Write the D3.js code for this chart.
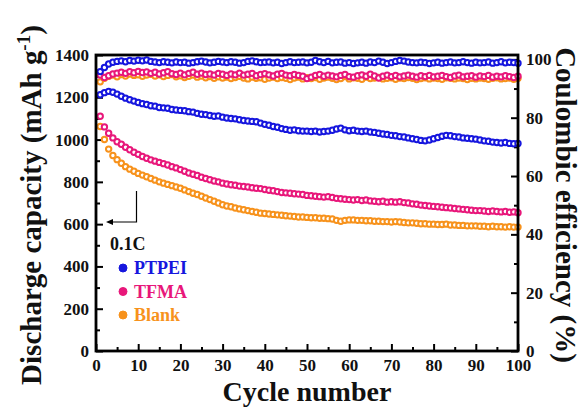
<!DOCTYPE html>
<html lang="en">
<head>
<meta charset="UTF-8">
<title>Cycling</title>
<script src="https://cdn.jsdelivr.net/npm/d3@7"></script>
<style>
  body { margin: 0; background: #fff; }
  svg text { font-family: "Liberation Serif", "Times New Roman", serif; font-weight: bold; }
  .axis path { display: none; }
  .axis line { stroke: #000; stroke-width: 2; }
  .axis text { font-size: 17px; fill: #111; font-family: "Liberation Serif", serif; }
</style>
</head>
<body>
<div id="container"></div>
<script>
// cycle numbers 1..100
var cycles = d3.range(1, 101);

// discharge capacity (mAh g-1)
var capPTPEI = [
  1212,1222,1228,1224,1215,1205,1196,1188,1182,1175,
  1170,1166,1160,1158,1152,1150,1148,1142,1140,1138,
  1136,1132,1130,1124,1120,1118,1114,1110,1112,1106,
  1102,1100,1098,1094,1090,1088,1086,1084,1078,1072,
  1068,1062,1058,1052,1048,1044,1046,1042,1040,1040,
  1038,1040,1036,1038,1040,1044,1050,1054,1046,1042,
  1044,1040,1038,1040,1036,1034,1030,1026,1024,1020,
  1018,1014,1012,1008,1004,1000,996,994,998,1004,
  1010,1016,1020,1018,1014,1012,1008,1006,1004,1002,
  998,994,992,988,986,984,986,982,980,982
];
var capTFMA = [
  1110,1060,1030,1008,990,978,964,952,940,930,
  920,912,904,898,892,886,880,872,866,858,
  850,842,836,830,822,816,810,804,800,794,
  790,786,784,780,778,776,772,770,768,764,
  760,758,754,750,748,746,744,742,740,736,
  734,732,730,728,730,726,722,720,718,716,
  714,716,712,714,710,708,706,708,704,706,
  704,706,702,700,696,694,690,688,686,684,
  682,680,678,676,674,672,670,668,666,664,
  664,662,660,662,660,658,660,656,658,654
];
var capBlank = [
  1062,1000,955,925,905,888,872,860,850,840,
  832,824,816,808,800,794,788,782,776,770,
  762,754,746,740,732,724,716,708,700,692,
  686,682,676,672,668,664,660,656,652,650,
  648,646,644,642,640,638,636,634,634,632,
  630,630,628,628,626,624,618,614,618,620,
  620,618,618,616,616,614,614,612,612,610,
  612,610,608,606,606,604,602,602,600,600,
  598,598,600,596,596,594,594,592,592,592,
  590,590,588,590,588,588,586,588,586,586
];

// coulombic efficiency (%)
var cePTPEI = [
  95.8,97.2,98.4,99.0,99.3,99.5,99.2,99.6,99.4,99.7,
  99.5,99.8,99.3,99.1,98.9,99.2,99.0,98.8,99.1,98.9,
  99.0,98.7,98.9,99.2,99.4,99.1,98.8,99.0,99.3,99.1,
  98.9,99.2,99.0,98.7,98.9,99.3,99.5,99.2,98.9,99.0,
  99.1,98.8,99.0,98.6,98.9,99.2,98.9,99.0,99.1,98.8,
  99.0,99.6,99.2,98.9,99.3,98.8,99.0,99.1,98.7,98.9,
  98.6,98.8,99.0,98.7,99.1,98.9,99.4,99.0,98.6,98.9,
  99.3,99.6,99.4,99.1,98.9,98.8,99.0,98.9,98.6,98.8,
  99.0,98.7,98.9,99.1,98.8,98.9,99.2,98.9,98.7,99.0,
  98.8,98.9,99.1,98.7,98.9,99.2,98.8,99.0,98.9,98.7
];
var ceTFMA = [
  94.6,93.8,94.4,95.0,95.3,95.6,95.2,95.8,95.4,95.9,
  95.5,95.7,95.2,95.6,95.0,95.4,95.8,95.1,94.8,95.3,
  94.7,95.2,95.6,94.9,95.3,94.8,95.0,94.6,95.2,94.9,
  94.5,95.0,94.7,95.3,94.6,94.9,95.2,94.4,94.8,95.1,
  94.7,94.3,94.9,95.2,94.6,94.4,94.8,94.5,94.2,93.4,
  93.9,94.5,94.8,94.2,94.6,94.3,94.0,94.5,94.8,94.1,
  93.9,94.4,94.7,94.2,94.9,94.3,93.6,94.2,94.6,94.1,
  94.5,94.0,94.3,94.6,94.2,93.9,94.4,94.1,94.5,94.0,
  94.2,94.5,94.1,93.8,94.3,94.6,94.0,94.2,94.4,93.9,
  94.3,94.1,94.5,93.9,94.2,94.0,94.4,94.1,93.8,94.2
];
var ceBlank = [
  92.3,93.5,94.2,94.6,94.0,94.8,94.3,95.0,94.5,94.7,
  94.2,94.6,94.9,94.3,94.7,94.1,94.5,94.8,94.0,94.4,
  93.8,94.2,94.6,93.9,94.3,93.7,94.1,93.5,94.0,93.6,
  93.9,93.4,93.8,94.2,93.6,93.3,93.9,93.5,93.7,93.2,
  93.6,93.9,93.4,93.8,93.5,93.1,93.6,93.9,93.3,93.7,
  93.4,93.8,93.2,93.6,93.9,93.5,93.1,93.4,94.1,93.3,
  93.7,93.5,93.2,93.9,93.4,93.6,93.8,93.3,93.5,93.7,
  93.2,93.6,93.4,93.8,93.5,93.1,93.4,93.7,93.3,93.6,
  93.4,93.2,93.7,93.5,93.3,93.6,93.4,93.1,93.5,93.3,
  93.6,93.4,93.2,93.5,93.7,93.3,93.4,93.6,93.2,93.5
];

var seriesNames = ["PTPEI", "TFMA", "Blank"];
var seriesColors = ["#1616de", "#e8177a", "#f7921c"];

var xTicks = d3.range(0, 101, 10);
var yLeftTicks = d3.range(0, 1401, 200);
var yRightTicks = d3.range(0, 101, 20);

var width = 586, height = 409;
var plotL = 96, plotR = 518, plotT = 55, plotB = 351;

var svg = d3.select("#container").append("svg")
  .attr("width", width).attr("height", height);

var x = d3.scaleLinear().domain([0, 100]).range([plotL, plotR]);
var yL = d3.scaleLinear().domain([0, 1400]).range([plotB, plotT]);
var yR = d3.scaleLinear().domain([0, 101.5]).range([plotB, plotT]);

// minor ticks
svg.append("g").attr("class", "axis").attr("transform", "translate(0," + plotB + ")")
  .call(d3.axisBottom(x).tickValues(d3.range(5, 100, 10)).tickSize(-4).tickFormat(""));
svg.append("g").attr("class", "axis").attr("transform", "translate(" + plotL + ",0)")
  .call(d3.axisLeft(yL).tickValues(d3.range(100, 1400, 200)).tickSize(-4).tickFormat(""));
svg.append("g").attr("class", "axis").attr("transform", "translate(" + plotR + ",0)")
  .call(d3.axisRight(yR).tickValues(d3.range(10, 100, 20)).tickSize(-4).tickFormat(""));

// major ticks
svg.append("g").attr("class", "axis").attr("transform", "translate(0," + plotB + ")")
  .call(d3.axisBottom(x).tickValues(xTicks).tickSize(-7).tickPadding(8));
svg.append("g").attr("class", "axis").attr("transform", "translate(" + plotL + ",0)")
  .call(d3.axisLeft(yL).tickValues(yLeftTicks).tickSize(-7).tickPadding(7).tickFormat(d3.format("d")));
svg.append("g").attr("class", "axis").attr("transform", "translate(" + plotR + ",0)")
  .call(d3.axisRight(yR).tickValues(yRightTicks).tickSize(-7).tickPadding(8));

// data points
var capData = [capPTPEI, capTFMA, capBlank];
var ceData = [cePTPEI, ceTFMA, ceBlank];
[2, 1, 0].forEach(function(i) {
  var g = svg.append("g");
  g.selectAll("circle.ce").data(ceData[i]).enter().append("circle")
    .attr("cx", function(d, j) { return x(cycles[j]); })
    .attr("cy", function(d) { return yR(d); })
    .attr("r", 2.7)
    .attr("fill", "#fff")
    .attr("stroke", seriesColors[i])
    .attr("stroke-width", 2);
  g.selectAll("circle.cap").data(capData[i]).enter().append("circle")
    .attr("cx", function(d, j) { return x(cycles[j]); })
    .attr("cy", function(d) { return yL(d); })
    .attr("r", 2.7)
    .attr("fill", "#fff")
    .attr("stroke", seriesColors[i])
    .attr("stroke-width", 2);
});

// frame
svg.append("rect")
  .attr("x", plotL).attr("y", plotT)
  .attr("width", plotR - plotL).attr("height", plotB - plotT)
  .attr("fill", "none").attr("stroke", "#000").attr("stroke-width", 2.8);

// arrow pointing to left axis
svg.append("path")
  .attr("d", "M136.5,191V222H112")
  .attr("fill", "none").attr("stroke", "#000").attr("stroke-width", 1.2);
svg.append("path")
  .attr("d", "M106,222L113,219L113,225Z")
  .attr("fill", "#000");

// legend
svg.append("text").attr("x", 110).attr("y", 250)
  .attr("font-size", 18).attr("fill", "#111").text("0.1C");
seriesNames.forEach(function(name, i) {
  var ly = 268 + i * 23.5;
  svg.append("circle").attr("cx", 123).attr("cy", ly).attr("r", 4)
    .attr("fill", seriesColors[i]).attr("stroke", seriesColors[i]).attr("stroke-width", 1);
  svg.append("text").attr("x", 134).attr("y", ly + 6)
    .attr("font-size", 18).attr("fill", seriesColors[i]).text(name);
});

// axis titles
var leftTitle = svg.append("text")
  .attr("transform", "translate(41,205) rotate(-90)")
  .attr("text-anchor", "middle").attr("font-size", 29).attr("fill", "#111");
leftTitle.append("tspan").text("Discharge capacity (mAh g");
leftTitle.append("tspan").attr("dy", -11).attr("font-size", 19).text("-1");
leftTitle.append("tspan").attr("dy", 11).text(")");

svg.append("text")
  .attr("transform", "translate(556,205) rotate(90)")
  .attr("text-anchor", "middle").attr("font-size", 29).attr("fill", "#111")
  .text("Coulombic efficiency (%)");

svg.append("text")
  .attr("x", 307).attr("y", 401)
  .attr("text-anchor", "middle").attr("font-size", 28).attr("fill", "#111")
  .text("Cycle number");
</script>
</body>
</html>
